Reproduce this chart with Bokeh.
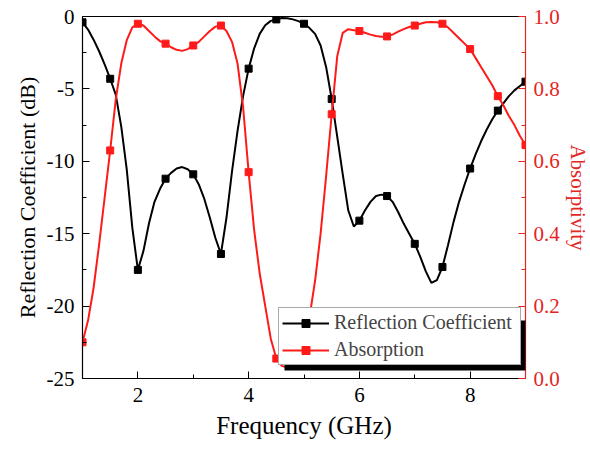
from bokeh.plotting import figure
from bokeh.models import (Range1d, LinearAxis, Legend, LegendItem, NumeralTickFormatter,
                          FixedTicker, BoxAnnotation)
from bokeh.embed import file_html
from bokeh.resources import INLINE

freq = [1.0, 1.1, 1.2, 1.3, 1.4, 1.5, 1.6, 1.7, 1.8, 1.9,
        2.0, 2.1, 2.2, 2.3, 2.4, 2.5, 2.6, 2.7, 2.8, 2.9,
        3.0, 3.1, 3.2, 3.3, 3.4, 3.5, 3.6, 3.7, 3.8, 3.9,
        4.0, 4.1, 4.2, 4.3, 4.4, 4.5, 4.6, 4.7, 4.8, 4.9,
        5.0, 5.1, 5.2, 5.3, 5.4, 5.5, 5.6, 5.7, 5.8, 5.9,
        6.0, 6.1, 6.2, 6.3, 6.4, 6.5, 6.6, 6.7, 6.8, 6.9,
        7.0, 7.1, 7.2, 7.3, 7.4, 7.5, 7.6, 7.7, 7.8, 7.9,
        8.0, 8.1, 8.2, 8.3, 8.4, 8.5, 8.6, 8.7, 8.8, 8.9, 9.0]

reflection_db = [-0.4, -0.9, -1.6, -2.4, -3.3, -4.3, -5.4, -7.6, -10.6, -14.6,
                 -17.5, -16.2, -14.3, -12.8, -11.9, -11.2, -10.8, -10.5, -10.4, -10.55,
                 -10.9, -11.6, -12.6, -13.9, -15.3, -16.4, -13.9, -10.7, -7.9, -5.5,
                 -3.6, -2.2, -1.2, -0.6, -0.3, -0.2, -0.1, -0.12, -0.2, -0.32,
                 -0.5, -0.8, -1.2, -2.0, -3.5, -5.7, -8.3, -10.9, -13.4, -14.5,
                 -14.1, -13.4, -12.8, -12.4, -12.3, -12.4, -12.8, -13.5, -14.3, -15.0,
                 -15.7, -16.6, -17.6, -18.4, -18.2, -17.3, -15.8, -14.2, -12.8, -11.6,
                 -10.5, -9.5, -8.6, -7.8, -7.1, -6.5, -6.0, -5.5, -5.1, -4.8, -4.5]

absorptivity = [0.10, 0.16, 0.25, 0.37, 0.50, 0.63, 0.77, 0.87, 0.935, 0.97,
                0.98, 0.975, 0.96, 0.945, 0.932, 0.925, 0.915, 0.908, 0.905, 0.91,
                0.92, 0.93, 0.945, 0.96, 0.972, 0.975, 0.96, 0.93, 0.87, 0.75,
                0.57, 0.41, 0.29, 0.20, 0.11, 0.055, 0.035, 0.03, 0.04, 0.07,
                0.11, 0.17, 0.27, 0.40, 0.56, 0.73, 0.89, 0.955, 0.965, 0.962,
                0.96, 0.955, 0.95, 0.946, 0.944, 0.945, 0.95, 0.958, 0.965, 0.971,
                0.975, 0.98, 0.984, 0.985, 0.984, 0.98, 0.97, 0.955, 0.94, 0.925,
                0.91, 0.885, 0.86, 0.835, 0.81, 0.78, 0.755, 0.725, 0.70, 0.67, 0.645]

# markers every 0.5 GHz
mk_freq = freq[::5]
mk_refl = reflection_db[::5]
mk_abs = absorptivity[::5]

x_ticks = [2, 4, 6, 8]
left_ticks = [0, -5, -10, -15, -20, -25]
right_ticks = [0.0, 0.2, 0.4, 0.6, 0.8, 1.0]

FONT = "Liberation Serif"
RED = "#ff1a1a"
AXRED = "#e3261f"

p = figure(frame_width=443, frame_height=362, output_backend="svg", toolbar_location=None,
           x_range=Range1d(1, 9), y_range=Range1d(-25, 0),
           min_border_left=82, min_border_top=16, min_border_right=65, min_border_bottom=55)
p.outline_line_color = None
p.grid.visible = False
p.background_fill_color = "white"
p.border_fill_color = "white"
p.extra_y_ranges = {"abs": Range1d(0, 1)}

def style_axis(ax, color):
    ax.axis_line_color = color
    ax.axis_line_width = 1.2
    ax.major_tick_line_color = color
    ax.minor_tick_line_color = color
    ax.major_tick_in = 7
    ax.major_tick_out = 0
    ax.minor_tick_in = 4
    ax.minor_tick_out = 0
    ax.major_label_text_font = FONT
    ax.major_label_text_font_size = "21px"
    ax.major_label_text_color = color
    ax.axis_label_text_font = FONT
    ax.axis_label_text_font_size = "22px"
    ax.axis_label_text_font_style = "normal"
    ax.axis_label_text_color = color

xa = p.xaxis[0]
style_axis(xa, "black")
xa.ticker = FixedTicker(ticks=x_ticks, minor_ticks=[1, 3, 5, 7, 9])
xa.axis_label = "Frequency (GHz)"
xa.axis_label_text_font_size = "25px"
xa.major_label_standoff = 9
xa.axis_label_standoff = 7

ya = p.yaxis[0]
style_axis(ya, "black")
ya.ticker = FixedTicker(ticks=left_ticks, minor_ticks=[-2.5, -7.5, -12.5, -17.5, -22.5])
ya.formatter = NumeralTickFormatter(format="0")
ya.axis_label = "Reflection Coefficient (dB)"
ya.major_label_standoff = 8
ya.axis_label_standoff = 4

ra = LinearAxis(y_range_name="abs", axis_label="Absorptivity")
style_axis(ra, AXRED)
ra.ticker = FixedTicker(ticks=right_ticks, minor_ticks=[0.1, 0.3, 0.5, 0.7, 0.9])
ra.formatter = NumeralTickFormatter(format="0.0")
ra.axis_label_text_font_size = "21px"
ra.major_label_standoff = 8
ra.axis_label_standoff = 3
p.add_layout(ra, "right")

ta = LinearAxis(major_tick_in=0, major_tick_out=0, minor_tick_in=0, minor_tick_out=0,
                major_label_text_font_size="0px", axis_line_color="black", axis_line_width=1.2)
ta.ticker = FixedTicker(ticks=[])
p.add_layout(ta, "above")

bl = p.line(freq, reflection_db, line_color="black", line_width=2)
bs = p.scatter(mk_freq, mk_refl, marker="square", size=7, color="black")
rl = p.line(freq, absorptivity, line_color=RED, line_width=2, y_range_name="abs")
rs = p.scatter(mk_freq, mk_abs, marker="square", size=7, color=RED, y_range_name="abs")

# legend drop shadow (canvas pixels, decoration only)
shadow = BoxAnnotation(left=284, right=527, top=320, bottom=370,
                       left_units="canvas", right_units="canvas",
                       top_units="canvas", bottom_units="canvas",
                       fill_color="black", fill_alpha=1.0, line_color=None,
                       propagate_hover=False)
p.add_layout(shadow)

legend = Legend(items=[LegendItem(label="Reflection Coefficient", renderers=[bl, bs]),
                       LegendItem(label="Absorption", renderers=[rl, rs])],
                location=(196, 13), orientation="vertical",
                label_text_font=FONT, label_text_font_size="20px",
                glyph_width=47, glyph_height=20, label_height=20, label_width=183,
                label_standoff=5, spacing=4, padding=3, margin=0,
                background_fill_color="white", background_fill_alpha=1.0,
                border_line_color="#555555", border_line_width=1)
p.add_layout(legend, "center")

open("out.html", "w").write(file_html(p, INLINE))
